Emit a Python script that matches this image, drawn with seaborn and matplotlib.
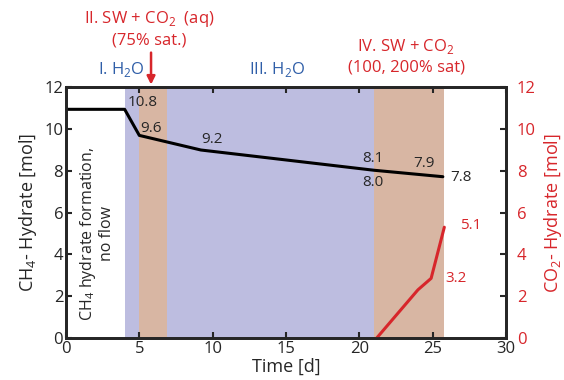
import numpy as np
import pandas as pd
import matplotlib
matplotlib.use("Agg")
import matplotlib.pyplot as plt
import seaborn as sns

sns.set_style("ticks")
plt.rcParams['font.family'] = ['Open Sans', 'DejaVu Sans']
plt.rcParams['mathtext.fontset'] = 'custom'
plt.rcParams['mathtext.rm'] = 'Open Sans'

# CH4 hydrate (black line)
ch4_t = [0, 4.0, 5.0, 9.2, 21.0, 25.7]
ch4_mol = [10.95, 10.95, 9.7, 9.0, 8.03, 7.72]

# CO2 hydrate (red line, right axis)
co2_t = [21.2, 24.0, 24.9, 25.8]
co2_mol = [0.0, 2.3, 2.85, 5.3]

# phases: (start, end, kind)
phase_start = [4.0, 4.95, 6.9, 21.0]
phase_end = [4.95, 6.9, 21.0, 25.8]
phase_kind = ["h2o", "co2", "h2o", "co2"]

# value labels
ch4_lbl = ["10.8", "9.6", "9.2", "8.1", "8.0", "7.9", "7.8"]
ch4_lbl_x = [5.2, 5.8, 9.95, 20.9, 20.9, 24.4, 26.9]
ch4_lbl_y = [11.3, 10.05, 9.5, 8.6, 7.45, 8.35, 7.7]
co2_lbl = ["3.2", "5.1"]
co2_lbl_x = [25.9, 26.9]
co2_lbl_y = [2.85, 5.4]

blue_band = "#bdbde0"
tan_band = "#d8b6a3"
red = "#d7262b"
blue_txt = "#2f5ea8"

fig = plt.figure(figsize=(5.64, 3.8), dpi=100)
ax = fig.add_axes([0.117, 0.111, 0.78, 0.659])

for s, e, k in zip(phase_start, phase_end, phase_kind):
    ax.axvspan(s, e, color=blue_band if k == "h2o" else tan_band, lw=0, zorder=0)

df = pd.DataFrame({"t": ch4_t, "mol": ch4_mol})
sns.lineplot(data=df, x="t", y="mol", ax=ax, color="black", lw=2.2, zorder=3)

ax.set_xlim(0, 30)
ax.set_ylim(0, 12)
ax.set_xticks([0, 5, 10, 15, 20, 25, 30])
ax.set_yticks(range(0, 13, 2))
ax.tick_params(direction="in", length=4, width=1.5, labelsize=12, top=True, pad=2)
for sp in ax.spines.values():
    sp.set_linewidth(2)
ax.set_xlabel("Time [d]", fontsize=13, labelpad=1)
ax.set_ylabel("CH$_4$- Hydrate [mol]", fontsize=13, labelpad=4)

ax2 = ax.twinx()
df2 = pd.DataFrame({"t": co2_t, "mol": co2_mol})
sns.lineplot(data=df2, x="t", y="mol", ax=ax2, color=red, lw=2.2)
ax2.set_ylim(0, 12)
ax2.set_yticks(range(0, 13, 2))
ax2.tick_params(direction="in", length=4, width=1.5, labelsize=12, labelcolor=red, pad=8)
ax2.set_ylabel("CO$_2$- Hydrate [mol]", fontsize=13, color=red, labelpad=4)
for sp in ax2.spines.values():
    sp.set_linewidth(2)

for t, x, y in zip(ch4_lbl, ch4_lbl_x, ch4_lbl_y):
    ax.text(x, y, t, ha="center", va="center", fontsize=11, zorder=4)
for t, x, y in zip(co2_lbl, co2_lbl_x, co2_lbl_y):
    ax2.text(x, y, t, ha="left", va="center", fontsize=11, color=red)

ax.text(2.1, 5.0, "CH$_4$ hydrate formation,\nno flow", rotation=90,
        ha="center", va="center", fontsize=11.5, linespacing=1.1)

# phase titles above plot
ax.text(3.8, 12.4, "I. H$_2$O", ha="center", va="bottom", fontsize=12, color=blue_txt, clip_on=False)
ax.text(14.4, 12.4, "III. H$_2$O", ha="center", va="bottom", fontsize=12, color=blue_txt, clip_on=False)
ax.text(5.7, 14.8, "II. SW + CO$_2$  (aq)\n(75% sat.)", ha="center", va="center",
        fontsize=12, color=red, linespacing=1.25, clip_on=False)
ax.text(23.2, 13.5, "IV. SW + CO$_2$\n(100, 200% sat)", ha="center", va="center",
        fontsize=12, color=red, linespacing=1.25, clip_on=False)
ax.annotate("", xy=(5.8, 12.0), xytext=(5.8, 13.8), annotation_clip=False,
            arrowprops=dict(arrowstyle="-|>", color=red, lw=1.8, mutation_scale=12))

fig.savefig("out.png", dpi=100)
